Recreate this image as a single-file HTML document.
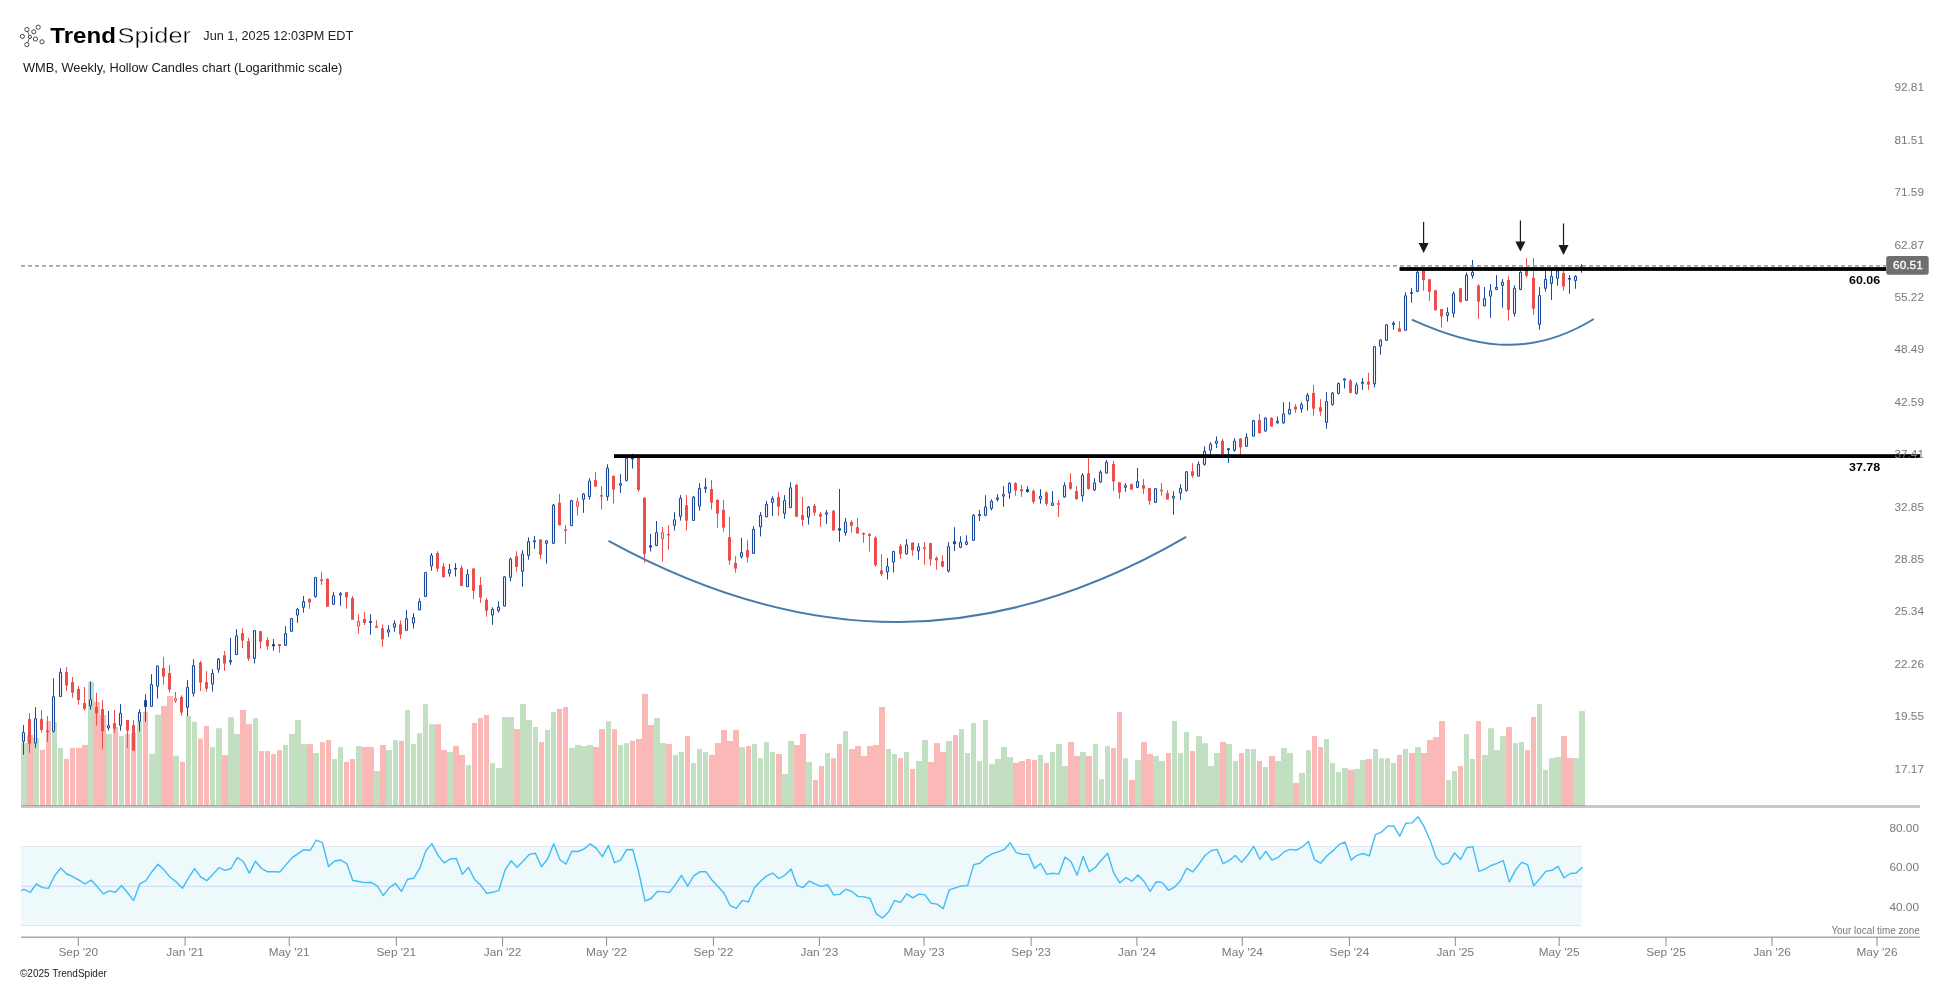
<!DOCTYPE html>
<html><head><meta charset="utf-8"><style>
html,body{margin:0;padding:0;background:#fff;width:1950px;height:983px;overflow:hidden}
svg{position:absolute;left:0;top:0;will-change:transform}
text{font-family:"Liberation Sans",sans-serif}
.ax{font-size:11.8px;fill:#737a7a}
.tz{font-size:10.5px;fill:#737a7a}
.lb{font-size:11.5px;font-weight:bold;fill:#000}
.tag{font-size:11.8px;fill:#fff}
.h1{font-size:22.8px}
</style></head><body>
<svg width="1950" height="983" viewBox="0 0 1950 983">
<text x="50.3" y="42.6" class="h1" font-weight="bold" fill="#000" textLength="65.6" lengthAdjust="spacingAndGlyphs">Trend</text>
<text x="117.6" y="42.6" class="h1" fill="#000" stroke="#fff" stroke-width="0.4" textLength="73.4" lengthAdjust="spacingAndGlyphs">Spider</text>
<text x="203.3" y="40" style="font-size:12.6px" fill="#222" textLength="150" lengthAdjust="spacingAndGlyphs">Jun 1, 2025 12:03PM EDT</text>
<text x="23" y="72.1" style="font-size:12.2px" fill="#1a1a1a" textLength="319.3" lengthAdjust="spacingAndGlyphs">WMB, Weekly, Hollow Candles chart (Logarithmic scale)</text>
<text x="20" y="976.9" style="font-size:10.7px" fill="#222" textLength="86.8" lengthAdjust="spacingAndGlyphs">©2025 TrendSpider</text>
<text x="1919" y="832.2" text-anchor="end" class="ax">80.00</text>
<text x="1919" y="871.2" text-anchor="end" class="ax">60.00</text>
<text x="1919" y="911.2" text-anchor="end" class="ax">40.00</text>
<text x="1831.4" y="933.5" class="tz" textLength="88.4" lengthAdjust="spacingAndGlyphs">Your local time zone</text>
<rect x="21" y="936.6" width="1899" height="1.1" fill="#8a8d8d"/>
<rect x="77.8" y="937" width="1" height="9" fill="#8a8d8d"/>
<text x="78.3" y="956.2" text-anchor="middle" class="ax">Sep '20</text>
<rect x="184.6" y="937" width="1" height="9" fill="#8a8d8d"/>
<text x="185.1" y="956.2" text-anchor="middle" class="ax">Jan '21</text>
<rect x="288.7" y="937" width="1" height="9" fill="#8a8d8d"/>
<text x="289.2" y="956.2" text-anchor="middle" class="ax">May '21</text>
<rect x="395.8" y="937" width="1" height="9" fill="#8a8d8d"/>
<text x="396.3" y="956.2" text-anchor="middle" class="ax">Sep '21</text>
<rect x="502.1" y="937" width="1" height="9" fill="#8a8d8d"/>
<text x="502.6" y="956.2" text-anchor="middle" class="ax">Jan '22</text>
<rect x="606.1" y="937" width="1" height="9" fill="#8a8d8d"/>
<text x="606.6" y="956.2" text-anchor="middle" class="ax">May '22</text>
<rect x="712.9" y="937" width="1" height="9" fill="#8a8d8d"/>
<text x="713.4" y="956.2" text-anchor="middle" class="ax">Sep '22</text>
<rect x="818.9" y="937" width="1" height="9" fill="#8a8d8d"/>
<text x="819.4" y="956.2" text-anchor="middle" class="ax">Jan '23</text>
<rect x="923.5" y="937" width="1" height="9" fill="#8a8d8d"/>
<text x="924" y="956.2" text-anchor="middle" class="ax">May '23</text>
<rect x="1030.6" y="937" width="1" height="9" fill="#8a8d8d"/>
<text x="1031.1" y="956.2" text-anchor="middle" class="ax">Sep '23</text>
<rect x="1136.4" y="937" width="1" height="9" fill="#8a8d8d"/>
<text x="1136.9" y="956.2" text-anchor="middle" class="ax">Jan '24</text>
<rect x="1241.8" y="937" width="1" height="9" fill="#8a8d8d"/>
<text x="1242.3" y="956.2" text-anchor="middle" class="ax">May '24</text>
<rect x="1348.9" y="937" width="1" height="9" fill="#8a8d8d"/>
<text x="1349.4" y="956.2" text-anchor="middle" class="ax">Sep '24</text>
<rect x="1454.8" y="937" width="1" height="9" fill="#8a8d8d"/>
<text x="1455.3" y="956.2" text-anchor="middle" class="ax">Jan '25</text>
<rect x="1558.7" y="937" width="1" height="9" fill="#8a8d8d"/>
<text x="1559.2" y="956.2" text-anchor="middle" class="ax">May '25</text>
<rect x="1665.5" y="937" width="1" height="9" fill="#8a8d8d"/>
<text x="1666" y="956.2" text-anchor="middle" class="ax">Sep '25</text>
<rect x="1771.5" y="937" width="1" height="9" fill="#8a8d8d"/>
<text x="1772" y="956.2" text-anchor="middle" class="ax">Jan '26</text>
<rect x="1876.5" y="937" width="1" height="9" fill="#8a8d8d"/>
<text x="1877" y="956.2" text-anchor="middle" class="ax">May '26</text>
<rect x="21" y="846.5" width="1561" height="79" fill="#edf9fb"/>
<rect x="21" y="846" width="1561" height="1" fill="#e3e7f1"/>
<rect x="21" y="925" width="1561" height="1" fill="#e3e6f0"/>
<rect x="21" y="885.8" width="1561" height="1.1" fill="#d0daf2"/>
<rect x="21" y="805" width="1899" height="3" fill="#c8c9cb"/>
<rect x="21" y="742.9" width="6" height="63.1" fill="#c2e0c1"/>
<rect x="27" y="735.0" width="6" height="71.0" fill="#fab9b7"/>
<rect x="33" y="737.9" width="6" height="68.1" fill="#c2e0c1"/>
<rect x="40" y="749.8" width="5" height="56.2" fill="#fab9b7"/>
<rect x="46" y="721.0" width="5" height="85.0" fill="#fab9b7"/>
<rect x="52" y="722.0" width="5" height="84.0" fill="#c2e0c1"/>
<rect x="58" y="747.8" width="5" height="58.2" fill="#c2e0c1"/>
<rect x="64" y="758.8" width="5" height="47.2" fill="#fab9b7"/>
<rect x="70" y="747.8" width="5" height="58.2" fill="#fab9b7"/>
<rect x="76" y="747.8" width="6" height="58.2" fill="#fab9b7"/>
<rect x="82" y="744.9" width="6" height="61.1" fill="#fab9b7"/>
<rect x="88" y="682.1" width="6" height="123.9" fill="#c2e0c1"/>
<rect x="94" y="701.9" width="6" height="104.1" fill="#fab9b7"/>
<rect x="100" y="715.1" width="6" height="90.9" fill="#fab9b7"/>
<rect x="106" y="733.9" width="6" height="72.1" fill="#c2e0c1"/>
<rect x="113" y="727.0" width="5" height="79.0" fill="#fab9b7"/>
<rect x="119" y="735.9" width="5" height="70.1" fill="#c2e0c1"/>
<rect x="125" y="733.9" width="5" height="72.1" fill="#fab9b7"/>
<rect x="131" y="733.0" width="5" height="73.0" fill="#fab9b7"/>
<rect x="137" y="722.0" width="5" height="84.0" fill="#c2e0c1"/>
<rect x="143" y="711.8" width="5" height="94.2" fill="#fab9b7"/>
<rect x="149" y="753.8" width="6" height="52.2" fill="#c2e0c1"/>
<rect x="155" y="714.7" width="6" height="91.3" fill="#c2e0c1"/>
<rect x="161" y="705.9" width="6" height="100.1" fill="#fab9b7"/>
<rect x="167" y="696.0" width="6" height="110.0" fill="#fab9b7"/>
<rect x="173" y="755.7" width="6" height="50.3" fill="#c2e0c1"/>
<rect x="180" y="761.7" width="5" height="44.3" fill="#fab9b7"/>
<rect x="186" y="715.8" width="5" height="90.2" fill="#c2e0c1"/>
<rect x="192" y="721.7" width="5" height="84.3" fill="#c2e0c1"/>
<rect x="198" y="738.5" width="5" height="67.5" fill="#fab9b7"/>
<rect x="204" y="726.0" width="5" height="80.0" fill="#fab9b7"/>
<rect x="210" y="746.9" width="5" height="59.1" fill="#c2e0c1"/>
<rect x="216" y="728.2" width="6" height="77.8" fill="#c2e0c1"/>
<rect x="222" y="755.1" width="6" height="50.9" fill="#fab9b7"/>
<rect x="228" y="717.2" width="6" height="88.8" fill="#c2e0c1"/>
<rect x="234" y="734.0" width="6" height="72.0" fill="#c2e0c1"/>
<rect x="240" y="710.0" width="6" height="96.0" fill="#fab9b7"/>
<rect x="246" y="724.2" width="6" height="81.8" fill="#fab9b7"/>
<rect x="253" y="718.1" width="5" height="87.9" fill="#c2e0c1"/>
<rect x="259" y="751.1" width="5" height="54.9" fill="#fab9b7"/>
<rect x="265" y="751.1" width="5" height="54.9" fill="#fab9b7"/>
<rect x="271" y="754.0" width="5" height="52.0" fill="#fab9b7"/>
<rect x="277" y="750.1" width="5" height="55.9" fill="#fab9b7"/>
<rect x="283" y="745.0" width="5" height="61.0" fill="#c2e0c1"/>
<rect x="289" y="734.0" width="6" height="72.0" fill="#c2e0c1"/>
<rect x="295" y="720.0" width="6" height="86.0" fill="#c2e0c1"/>
<rect x="301" y="744.1" width="6" height="61.9" fill="#c2e0c1"/>
<rect x="307" y="744.1" width="6" height="61.9" fill="#fab9b7"/>
<rect x="313" y="753.0" width="6" height="53.0" fill="#c2e0c1"/>
<rect x="320" y="742.2" width="5" height="63.8" fill="#fab9b7"/>
<rect x="326" y="740.1" width="5" height="65.9" fill="#fab9b7"/>
<rect x="332" y="759.0" width="5" height="47.0" fill="#c2e0c1"/>
<rect x="338" y="747.0" width="5" height="59.0" fill="#c2e0c1"/>
<rect x="344" y="761.9" width="5" height="44.1" fill="#fab9b7"/>
<rect x="350" y="759.0" width="5" height="47.0" fill="#fab9b7"/>
<rect x="356" y="746.0" width="6" height="60.0" fill="#c2e0c1"/>
<rect x="362" y="747.0" width="6" height="59.0" fill="#fab9b7"/>
<rect x="368" y="747.0" width="6" height="59.0" fill="#fab9b7"/>
<rect x="374" y="771.1" width="6" height="34.9" fill="#c2e0c1"/>
<rect x="380" y="745.0" width="6" height="61.0" fill="#fab9b7"/>
<rect x="386" y="750.1" width="6" height="55.9" fill="#c2e0c1"/>
<rect x="393" y="740.1" width="5" height="65.9" fill="#c2e0c1"/>
<rect x="399" y="740.9" width="5" height="65.1" fill="#fab9b7"/>
<rect x="405" y="710.0" width="5" height="96.0" fill="#c2e0c1"/>
<rect x="411" y="744.1" width="5" height="61.9" fill="#c2e0c1"/>
<rect x="417" y="733.1" width="5" height="72.9" fill="#c2e0c1"/>
<rect x="423" y="704.1" width="5" height="101.9" fill="#c2e0c1"/>
<rect x="429" y="724.2" width="6" height="81.8" fill="#c2e0c1"/>
<rect x="435" y="724.2" width="6" height="81.8" fill="#fab9b7"/>
<rect x="441" y="750.1" width="6" height="55.9" fill="#fab9b7"/>
<rect x="447" y="752.0" width="6" height="54.0" fill="#c2e0c1"/>
<rect x="453" y="746.0" width="6" height="60.0" fill="#fab9b7"/>
<rect x="459" y="754.9" width="6" height="51.1" fill="#fab9b7"/>
<rect x="466" y="765.1" width="5" height="40.9" fill="#c2e0c1"/>
<rect x="472" y="722.9" width="5" height="83.1" fill="#fab9b7"/>
<rect x="478" y="718.1" width="5" height="87.9" fill="#fab9b7"/>
<rect x="484" y="715.1" width="5" height="90.9" fill="#fab9b7"/>
<rect x="490" y="762.9" width="5" height="43.1" fill="#c2e0c1"/>
<rect x="496" y="768.0" width="6" height="38.0" fill="#c2e0c1"/>
<rect x="502" y="717.0" width="6" height="89.0" fill="#c2e0c1"/>
<rect x="508" y="717.0" width="6" height="89.0" fill="#c2e0c1"/>
<rect x="514" y="729.1" width="6" height="76.9" fill="#fab9b7"/>
<rect x="520" y="704.1" width="6" height="101.9" fill="#c2e0c1"/>
<rect x="526" y="720.0" width="6" height="86.0" fill="#c2e0c1"/>
<rect x="533" y="727.0" width="5" height="79.0" fill="#c2e0c1"/>
<rect x="539" y="742.0" width="5" height="64.0" fill="#fab9b7"/>
<rect x="545" y="729.9" width="5" height="76.1" fill="#c2e0c1"/>
<rect x="551" y="712.0" width="5" height="94.0" fill="#c2e0c1"/>
<rect x="557" y="708.9" width="5" height="97.1" fill="#fab9b7"/>
<rect x="563" y="707.0" width="5" height="99.0" fill="#fab9b7"/>
<rect x="569" y="747.9" width="6" height="58.1" fill="#c2e0c1"/>
<rect x="575" y="745.0" width="6" height="61.0" fill="#c2e0c1"/>
<rect x="581" y="746.0" width="6" height="60.0" fill="#c2e0c1"/>
<rect x="587" y="745.0" width="6" height="61.0" fill="#c2e0c1"/>
<rect x="593" y="747.0" width="6" height="59.0" fill="#fab9b7"/>
<rect x="599" y="729.1" width="6" height="76.9" fill="#fab9b7"/>
<rect x="606" y="721.2" width="5" height="84.8" fill="#c2e0c1"/>
<rect x="612" y="729.1" width="5" height="76.9" fill="#fab9b7"/>
<rect x="618" y="745.0" width="5" height="61.0" fill="#c2e0c1"/>
<rect x="624" y="743.1" width="5" height="62.9" fill="#c2e0c1"/>
<rect x="630" y="740.9" width="5" height="65.1" fill="#fab9b7"/>
<rect x="636" y="739.0" width="6" height="67.0" fill="#fab9b7"/>
<rect x="642" y="693.9" width="6" height="112.1" fill="#fab9b7"/>
<rect x="648" y="725.1" width="6" height="80.9" fill="#fab9b7"/>
<rect x="654" y="718.1" width="6" height="87.9" fill="#c2e0c1"/>
<rect x="660" y="743.1" width="6" height="62.9" fill="#c2e0c1"/>
<rect x="666" y="744.1" width="6" height="61.9" fill="#fab9b7"/>
<rect x="673" y="754.9" width="5" height="51.1" fill="#c2e0c1"/>
<rect x="679" y="752.0" width="5" height="54.0" fill="#c2e0c1"/>
<rect x="685" y="736.1" width="5" height="69.9" fill="#fab9b7"/>
<rect x="691" y="762.9" width="5" height="43.1" fill="#c2e0c1"/>
<rect x="697" y="749.0" width="5" height="57.0" fill="#c2e0c1"/>
<rect x="703" y="752.0" width="5" height="54.0" fill="#c2e0c1"/>
<rect x="709" y="754.9" width="6" height="51.1" fill="#fab9b7"/>
<rect x="715" y="743.1" width="6" height="62.9" fill="#fab9b7"/>
<rect x="721" y="729.9" width="6" height="76.1" fill="#fab9b7"/>
<rect x="727" y="740.9" width="6" height="65.1" fill="#fab9b7"/>
<rect x="733" y="729.9" width="6" height="76.1" fill="#fab9b7"/>
<rect x="739" y="747.0" width="6" height="59.0" fill="#c2e0c1"/>
<rect x="746" y="746.0" width="5" height="60.0" fill="#fab9b7"/>
<rect x="752" y="744.1" width="5" height="61.9" fill="#c2e0c1"/>
<rect x="758" y="758.1" width="5" height="47.9" fill="#c2e0c1"/>
<rect x="764" y="742.2" width="5" height="63.8" fill="#c2e0c1"/>
<rect x="770" y="752.0" width="5" height="54.0" fill="#c2e0c1"/>
<rect x="776" y="754.0" width="6" height="52.0" fill="#fab9b7"/>
<rect x="782" y="774.0" width="6" height="32.0" fill="#c2e0c1"/>
<rect x="788" y="740.9" width="6" height="65.1" fill="#c2e0c1"/>
<rect x="794" y="745.0" width="6" height="61.0" fill="#fab9b7"/>
<rect x="800" y="734.0" width="6" height="72.0" fill="#fab9b7"/>
<rect x="806" y="761.9" width="6" height="44.1" fill="#c2e0c1"/>
<rect x="813" y="780.0" width="5" height="26.0" fill="#fab9b7"/>
<rect x="819" y="766.0" width="5" height="40.0" fill="#fab9b7"/>
<rect x="825" y="753.0" width="5" height="53.0" fill="#c2e0c1"/>
<rect x="831" y="758.1" width="5" height="47.9" fill="#fab9b7"/>
<rect x="837" y="744.1" width="5" height="61.9" fill="#fab9b7"/>
<rect x="843" y="731.0" width="5" height="75.0" fill="#c2e0c1"/>
<rect x="849" y="749.0" width="6" height="57.0" fill="#fab9b7"/>
<rect x="855" y="746.0" width="6" height="60.0" fill="#fab9b7"/>
<rect x="861" y="755.9" width="6" height="50.1" fill="#fab9b7"/>
<rect x="867" y="746.0" width="6" height="60.0" fill="#fab9b7"/>
<rect x="873" y="745.0" width="6" height="61.0" fill="#fab9b7"/>
<rect x="879" y="707.0" width="6" height="99.0" fill="#fab9b7"/>
<rect x="886" y="749.0" width="5" height="57.0" fill="#c2e0c1"/>
<rect x="892" y="754.0" width="5" height="52.0" fill="#c2e0c1"/>
<rect x="898" y="758.1" width="5" height="47.9" fill="#fab9b7"/>
<rect x="904" y="752.0" width="5" height="54.0" fill="#c2e0c1"/>
<rect x="910" y="768.9" width="5" height="37.1" fill="#fab9b7"/>
<rect x="916" y="761.0" width="6" height="45.0" fill="#c2e0c1"/>
<rect x="922" y="740.1" width="6" height="65.9" fill="#c2e0c1"/>
<rect x="928" y="761.9" width="6" height="44.1" fill="#fab9b7"/>
<rect x="934" y="743.1" width="6" height="62.9" fill="#fab9b7"/>
<rect x="940" y="752.0" width="6" height="54.0" fill="#fab9b7"/>
<rect x="946" y="740.9" width="6" height="65.1" fill="#c2e0c1"/>
<rect x="953" y="735.0" width="5" height="71.0" fill="#fab9b7"/>
<rect x="959" y="729.1" width="5" height="76.9" fill="#c2e0c1"/>
<rect x="965" y="753.0" width="5" height="53.0" fill="#c2e0c1"/>
<rect x="971" y="722.9" width="5" height="83.1" fill="#c2e0c1"/>
<rect x="977" y="761.0" width="5" height="45.0" fill="#c2e0c1"/>
<rect x="983" y="720.0" width="5" height="86.0" fill="#c2e0c1"/>
<rect x="989" y="764.1" width="6" height="41.9" fill="#c2e0c1"/>
<rect x="995" y="759.0" width="6" height="47.0" fill="#c2e0c1"/>
<rect x="1001" y="747.0" width="6" height="59.0" fill="#c2e0c1"/>
<rect x="1007" y="757.1" width="6" height="48.9" fill="#c2e0c1"/>
<rect x="1013" y="762.9" width="6" height="43.1" fill="#fab9b7"/>
<rect x="1019" y="761.0" width="6" height="45.0" fill="#fab9b7"/>
<rect x="1026" y="759.0" width="5" height="47.0" fill="#fab9b7"/>
<rect x="1032" y="760.0" width="5" height="46.0" fill="#fab9b7"/>
<rect x="1038" y="754.9" width="5" height="51.1" fill="#c2e0c1"/>
<rect x="1044" y="762.9" width="5" height="43.1" fill="#fab9b7"/>
<rect x="1050" y="752.0" width="5" height="54.0" fill="#c2e0c1"/>
<rect x="1056" y="744.1" width="6" height="61.9" fill="#c2e0c1"/>
<rect x="1062" y="766.0" width="6" height="40.0" fill="#c2e0c1"/>
<rect x="1068" y="742.0" width="6" height="64.0" fill="#fab9b7"/>
<rect x="1074" y="755.9" width="6" height="50.1" fill="#fab9b7"/>
<rect x="1080" y="752.0" width="6" height="54.0" fill="#c2e0c1"/>
<rect x="1086" y="755.9" width="6" height="50.1" fill="#fab9b7"/>
<rect x="1093" y="744.1" width="5" height="61.9" fill="#c2e0c1"/>
<rect x="1099" y="779.1" width="5" height="26.9" fill="#c2e0c1"/>
<rect x="1105" y="746.0" width="5" height="60.0" fill="#c2e0c1"/>
<rect x="1111" y="747.9" width="5" height="58.1" fill="#fab9b7"/>
<rect x="1117" y="712.0" width="5" height="94.0" fill="#fab9b7"/>
<rect x="1123" y="758.1" width="5" height="47.9" fill="#c2e0c1"/>
<rect x="1129" y="780.0" width="6" height="26.0" fill="#fab9b7"/>
<rect x="1135" y="760.0" width="6" height="46.0" fill="#c2e0c1"/>
<rect x="1141" y="742.0" width="6" height="64.0" fill="#fab9b7"/>
<rect x="1147" y="754.0" width="6" height="52.0" fill="#fab9b7"/>
<rect x="1153" y="755.9" width="6" height="50.1" fill="#c2e0c1"/>
<rect x="1159" y="761.0" width="6" height="45.0" fill="#c2e0c1"/>
<rect x="1166" y="753.0" width="5" height="53.0" fill="#fab9b7"/>
<rect x="1172" y="721.0" width="5" height="85.0" fill="#c2e0c1"/>
<rect x="1178" y="753.0" width="5" height="53.0" fill="#c2e0c1"/>
<rect x="1184" y="732.0" width="5" height="74.0" fill="#c2e0c1"/>
<rect x="1190" y="751.1" width="5" height="54.9" fill="#fab9b7"/>
<rect x="1196" y="736.1" width="6" height="69.9" fill="#c2e0c1"/>
<rect x="1202" y="743.1" width="6" height="62.9" fill="#c2e0c1"/>
<rect x="1208" y="766.0" width="6" height="40.0" fill="#c2e0c1"/>
<rect x="1214" y="753.0" width="6" height="53.0" fill="#c2e0c1"/>
<rect x="1220" y="742.0" width="6" height="64.0" fill="#fab9b7"/>
<rect x="1226" y="744.1" width="6" height="61.9" fill="#c2e0c1"/>
<rect x="1233" y="761.0" width="5" height="45.0" fill="#c2e0c1"/>
<rect x="1239" y="753.0" width="5" height="53.0" fill="#fab9b7"/>
<rect x="1245" y="749.0" width="5" height="57.0" fill="#c2e0c1"/>
<rect x="1251" y="749.0" width="5" height="57.0" fill="#c2e0c1"/>
<rect x="1257" y="761.0" width="5" height="45.0" fill="#fab9b7"/>
<rect x="1263" y="767.0" width="5" height="39.0" fill="#c2e0c1"/>
<rect x="1269" y="755.9" width="6" height="50.1" fill="#fab9b7"/>
<rect x="1275" y="761.0" width="6" height="45.0" fill="#c2e0c1"/>
<rect x="1281" y="747.9" width="6" height="58.1" fill="#c2e0c1"/>
<rect x="1287" y="753.0" width="6" height="53.0" fill="#c2e0c1"/>
<rect x="1293" y="782.9" width="6" height="23.1" fill="#fab9b7"/>
<rect x="1299" y="773.0" width="6" height="33.0" fill="#c2e0c1"/>
<rect x="1306" y="750.1" width="5" height="55.9" fill="#c2e0c1"/>
<rect x="1312" y="736.1" width="5" height="69.9" fill="#fab9b7"/>
<rect x="1318" y="747.0" width="5" height="59.0" fill="#fab9b7"/>
<rect x="1324" y="739.0" width="5" height="67.0" fill="#c2e0c1"/>
<rect x="1330" y="762.9" width="5" height="43.1" fill="#c2e0c1"/>
<rect x="1336" y="772.1" width="5" height="33.9" fill="#c2e0c1"/>
<rect x="1342" y="768.0" width="6" height="38.0" fill="#c2e0c1"/>
<rect x="1348" y="769.9" width="6" height="36.1" fill="#fab9b7"/>
<rect x="1354" y="768.9" width="6" height="37.1" fill="#c2e0c1"/>
<rect x="1360" y="760.0" width="6" height="46.0" fill="#c2e0c1"/>
<rect x="1366" y="759.0" width="6" height="47.0" fill="#fab9b7"/>
<rect x="1373" y="749.0" width="5" height="57.0" fill="#c2e0c1"/>
<rect x="1379" y="758.1" width="5" height="47.9" fill="#c2e0c1"/>
<rect x="1385" y="758.1" width="5" height="47.9" fill="#c2e0c1"/>
<rect x="1391" y="762.9" width="5" height="43.1" fill="#c2e0c1"/>
<rect x="1397" y="754.9" width="5" height="51.1" fill="#fab9b7"/>
<rect x="1403" y="749.0" width="5" height="57.0" fill="#c2e0c1"/>
<rect x="1409" y="753.0" width="6" height="53.0" fill="#fab9b7"/>
<rect x="1415" y="747.0" width="6" height="59.0" fill="#c2e0c1"/>
<rect x="1421" y="753.0" width="6" height="53.0" fill="#fab9b7"/>
<rect x="1427" y="740.1" width="6" height="65.9" fill="#fab9b7"/>
<rect x="1433" y="737.1" width="6" height="68.9" fill="#fab9b7"/>
<rect x="1439" y="721.0" width="6" height="85.0" fill="#fab9b7"/>
<rect x="1446" y="780.0" width="5" height="26.0" fill="#c2e0c1"/>
<rect x="1452" y="771.1" width="5" height="34.9" fill="#c2e0c1"/>
<rect x="1458" y="766.0" width="5" height="40.0" fill="#fab9b7"/>
<rect x="1464" y="734.0" width="5" height="72.0" fill="#c2e0c1"/>
<rect x="1470" y="759.0" width="5" height="47.0" fill="#c2e0c1"/>
<rect x="1476" y="721.0" width="5" height="85.0" fill="#fab9b7"/>
<rect x="1482" y="754.9" width="6" height="51.1" fill="#c2e0c1"/>
<rect x="1488" y="728.2" width="6" height="77.8" fill="#c2e0c1"/>
<rect x="1494" y="750.1" width="6" height="55.9" fill="#c2e0c1"/>
<rect x="1500" y="736.1" width="6" height="69.9" fill="#c2e0c1"/>
<rect x="1506" y="727.0" width="6" height="79.0" fill="#fab9b7"/>
<rect x="1513" y="743.1" width="5" height="62.9" fill="#c2e0c1"/>
<rect x="1519" y="742.0" width="5" height="64.0" fill="#c2e0c1"/>
<rect x="1525" y="750.1" width="5" height="55.9" fill="#fab9b7"/>
<rect x="1531" y="717.0" width="5" height="89.0" fill="#fab9b7"/>
<rect x="1537" y="704.1" width="5" height="101.9" fill="#c2e0c1"/>
<rect x="1543" y="769.9" width="5" height="36.1" fill="#c2e0c1"/>
<rect x="1549" y="758.1" width="6" height="47.9" fill="#c2e0c1"/>
<rect x="1555" y="757.1" width="6" height="48.9" fill="#c2e0c1"/>
<rect x="1561" y="736.1" width="6" height="69.9" fill="#fab9b7"/>
<rect x="1567" y="758.1" width="6" height="47.9" fill="#fab9b7"/>
<rect x="1573" y="758.1" width="6" height="47.9" fill="#c2e0c1"/>
<rect x="1579" y="711.1" width="6" height="94.9" fill="#c2e0c1"/>
<rect x="21" y="805" width="1564" height="1" fill="rgba(0,0,0,0.2)"/>
<polyline points="21.2,890.6 24.1,889.3 30.2,892.5 36.3,883.8 42.4,887.6 48.5,888.4 54.6,875.8 60.7,868.1 66.7,874.0 72.8,876.6 78.9,880.1 85.0,884.0 91.1,880.1 97.2,886.5 103.3,893.9 109.3,890.9 115.4,892.2 121.5,885.5 127.6,892.7 133.7,900.6 139.8,883.8 145.9,880.7 152.0,871.7 158.0,864.3 164.1,870.1 170.2,877.3 176.3,882.1 182.4,888.3 188.5,877.8 194.6,868.6 200.6,876.8 206.7,880.7 212.8,874.4 218.9,867.7 225.0,870.3 231.1,868.5 237.2,857.7 243.3,861.5 249.3,873.1 255.4,861.3 261.5,868.5 267.6,871.8 273.7,871.6 279.8,872.0 285.9,864.9 291.9,857.9 298.0,853.6 304.1,849.7 310.2,850.5 316.3,840.2 322.4,842.6 328.5,866.5 334.6,861.0 340.6,860.0 346.7,863.6 352.8,880.5 358.9,881.5 365.0,882.6 371.1,882.3 377.2,885.8 383.3,895.6 389.3,887.7 395.4,883.4 401.5,891.5 407.6,879.3 413.7,878.3 419.8,868.2 425.9,850.8 431.9,843.6 438.0,855.4 444.1,862.9 450.2,859.0 456.3,858.5 462.4,874.2 468.5,867.4 474.6,879.5 480.6,885.1 486.7,893.3 492.8,892.3 498.9,890.3 505.0,870.1 511.1,860.8 517.2,867.2 523.2,861.0 529.3,854.4 535.4,853.3 541.5,866.7 547.6,859.0 553.7,843.8 559.8,859.5 565.9,864.1 571.9,851.3 578.0,851.5 584.1,849.0 590.2,843.9 596.3,848.4 602.4,856.6 608.5,845.4 614.5,862.6 620.6,860.2 626.7,849.7 632.8,849.5 638.9,872.8 645.0,901.0 651.1,898.5 657.2,891.5 663.2,891.6 669.3,892.6 675.4,884.6 681.5,875.4 687.6,886.2 693.7,875.9 699.8,871.8 705.9,871.6 711.9,880.0 718.0,886.5 724.1,893.3 730.2,905.6 736.3,908.4 742.4,900.3 748.5,902.1 754.5,887.7 760.6,881.2 766.7,875.9 772.8,873.1 778.9,878.5 785.0,875.1 791.1,868.9 797.2,885.7 803.2,887.6 809.3,881.1 815.4,884.1 821.5,886.6 827.6,884.7 833.7,894.8 839.8,894.4 845.8,889.2 851.9,891.5 858.0,896.4 864.1,896.9 870.2,898.5 876.3,913.9 882.4,917.9 888.5,912.1 894.5,900.5 900.6,902.3 906.7,893.8 912.8,897.9 918.9,894.1 925.0,894.9 931.1,903.3 937.1,904.1 943.2,908.7 949.3,889.8 955.4,887.9 961.5,885.9 967.6,885.6 973.7,864.6 979.8,863.3 985.8,857.7 991.9,853.8 998.0,851.8 1004.1,849.7 1010.2,842.8 1016.3,852.6 1022.4,854.2 1028.5,854.4 1034.5,868.4 1040.6,863.6 1046.7,874.4 1052.8,873.3 1058.9,874.1 1065.0,857.1 1071.1,861.8 1077.1,875.1 1083.2,856.4 1089.3,871.8 1095.4,867.2 1101.5,860.0 1107.6,853.3 1113.7,872.8 1119.8,882.8 1125.8,877.7 1131.9,881.2 1138.0,874.9 1144.1,881.5 1150.2,891.5 1156.3,881.7 1162.4,882.6 1168.4,890.3 1174.5,887.2 1180.6,880.5 1186.7,868.3 1192.8,871.9 1198.9,864.2 1205.0,855.5 1211.1,850.7 1217.1,849.4 1223.2,863.7 1229.3,860.4 1235.4,855.5 1241.5,862.4 1247.6,855.3 1253.7,846.3 1259.8,859.3 1265.8,851.4 1271.9,860.1 1278.0,857.4 1284.1,851.9 1290.2,849.4 1296.3,850.2 1302.4,846.8 1308.4,841.5 1314.5,859.6 1320.6,863.2 1326.7,856.0 1332.8,850.9 1338.9,844.7 1345.0,842.0 1351.1,860.1 1357.1,855.3 1363.2,853.5 1369.3,855.8 1375.4,834.7 1381.5,832.1 1387.6,826.2 1393.7,825.9 1399.7,836.2 1405.8,823.2 1411.9,822.9 1418.0,816.7 1424.1,826.7 1430.2,840.2 1436.3,857.9 1442.4,864.6 1448.4,862.8 1454.5,852.9 1460.6,859.5 1466.7,847.7 1472.8,846.6 1478.9,871.4 1485.0,869.2 1491.0,865.5 1497.1,863.3 1503.2,860.6 1509.3,881.9 1515.4,870.3 1521.5,862.4 1527.6,864.7 1533.7,885.7 1539.7,878.9 1545.8,871.4 1551.9,870.3 1558.0,866.3 1564.1,877.8 1570.2,873.5 1576.3,873.0 1582.4,867.1" fill="none" stroke="#40bdf5" stroke-width="1.4" stroke-linejoin="round"/>
<rect x="23.0" y="725.1" width="1" height="29.8" fill="#1b4a9c"/>
<rect x="22.5" y="732.2" width="2" height="9.4" rx="1" fill="#fff" stroke="#1b4a9c" stroke-width="1.1"/>
<rect x="29.0" y="713.0" width="1" height="39.8" fill="#ee4d4d"/>
<rect x="28.0" y="719.1" width="3" height="24.5" fill="#ee4d4d"/>
<rect x="35.0" y="707.2" width="1" height="40.6" fill="#1b4a9c"/>
<rect x="34.5" y="718.3" width="2" height="24.9" rx="1" fill="#fff" stroke="#1b4a9c" stroke-width="1.1"/>
<rect x="41.0" y="710.1" width="1" height="22.5" fill="#ee4d4d"/>
<rect x="40.0" y="719.1" width="3" height="10.8" fill="#ee4d4d"/>
<rect x="47.0" y="716.1" width="1" height="25.8" fill="#ee4d4d"/>
<rect x="46.0" y="730.7" width="3" height="1.5" fill="#ee4d4d"/>
<rect x="53.0" y="678.4" width="1" height="54.2" fill="#1b4a9c"/>
<rect x="52.5" y="696.2" width="2" height="35.1" rx="1" fill="#fff" stroke="#1b4a9c" stroke-width="1.1"/>
<rect x="60.0" y="668.2" width="1" height="28.4" fill="#1b4a9c"/>
<rect x="59.5" y="672.1" width="2" height="24.5" rx="1" fill="#fff" stroke="#1b4a9c" stroke-width="1.1"/>
<rect x="66.0" y="667.1" width="1" height="23.8" fill="#ee4d4d"/>
<rect x="65.0" y="672.1" width="3" height="13.5" fill="#ee4d4d"/>
<rect x="72.0" y="677.0" width="1" height="20.8" fill="#ee4d4d"/>
<rect x="71.0" y="682.1" width="3" height="10.6" fill="#ee4d4d"/>
<rect x="78.0" y="686.0" width="1" height="18.8" fill="#ee4d4d"/>
<rect x="77.0" y="688.9" width="3" height="11.0" fill="#ee4d4d"/>
<rect x="84.0" y="687.0" width="1" height="23.8" fill="#ee4d4d"/>
<rect x="83.0" y="703.1" width="3" height="5.7" fill="#ee4d4d"/>
<rect x="90.0" y="681.3" width="1" height="28.4" fill="#1b4a9c"/>
<rect x="89.5" y="699.5" width="2" height="6.6" rx="1" fill="#fff" stroke="#1b4a9c" stroke-width="1.1"/>
<rect x="96.0" y="692.9" width="1" height="32.8" fill="#ee4d4d"/>
<rect x="95.0" y="706.8" width="3" height="6.6" fill="#ee4d4d"/>
<rect x="102.0" y="700.2" width="1" height="48.5" fill="#ee4d4d"/>
<rect x="101.0" y="709.0" width="3" height="22.2" fill="#ee4d4d"/>
<rect x="108.0" y="711.0" width="1" height="19.6" fill="#1b4a9c"/>
<rect x="107.5" y="725.3" width="2" height="2.6" rx="1" fill="#fff" stroke="#1b4a9c" stroke-width="1.1"/>
<rect x="114.0" y="710.1" width="1" height="22.5" fill="#ee4d4d"/>
<rect x="113.0" y="723.1" width="3" height="5.6" fill="#ee4d4d"/>
<rect x="120.0" y="704.2" width="1" height="26.5" fill="#1b4a9c"/>
<rect x="119.5" y="713.1" width="2" height="12.4" rx="1" fill="#fff" stroke="#1b4a9c" stroke-width="1.1"/>
<rect x="127.0" y="720.0" width="1" height="27.8" fill="#ee4d4d"/>
<rect x="126.0" y="720.0" width="3" height="10.6" fill="#ee4d4d"/>
<rect x="133.0" y="720.0" width="1" height="30.4" fill="#ee4d4d"/>
<rect x="132.0" y="725.1" width="3" height="25.4" fill="#ee4d4d"/>
<rect x="139.0" y="709.2" width="1" height="22.4" fill="#1b4a9c"/>
<rect x="138.5" y="712.1" width="2" height="9.3" rx="1" fill="#fff" stroke="#1b4a9c" stroke-width="1.1"/>
<rect x="145.0" y="694.2" width="1" height="27.5" fill="#1b4a9c"/>
<rect x="144.0" y="700.2" width="3" height="6.6" fill="#1b4a9c"/>
<rect x="151.0" y="674.1" width="1" height="32.4" fill="#1b4a9c"/>
<rect x="150.5" y="684.3" width="2" height="22.2" rx="1" fill="#fff" stroke="#1b4a9c" stroke-width="1.1"/>
<rect x="157.0" y="665.1" width="1" height="33.5" fill="#1b4a9c"/>
<rect x="156.5" y="665.8" width="2" height="20.5" rx="1" fill="#fff" stroke="#1b4a9c" stroke-width="1.1"/>
<rect x="163.0" y="656.9" width="1" height="27.8" fill="#ee4d4d"/>
<rect x="162.0" y="668.0" width="3" height="8.6" fill="#ee4d4d"/>
<rect x="169.0" y="665.1" width="1" height="27.5" fill="#ee4d4d"/>
<rect x="168.0" y="673.1" width="3" height="16.5" fill="#ee4d4d"/>
<rect x="175.0" y="692.0" width="1" height="10.8" fill="#ee4d4d"/>
<rect x="174.5" y="698.2" width="2" height="2.6" rx="1" fill="#fff" stroke="#ee4d4d" stroke-width="1.1"/>
<rect x="181.0" y="695.3" width="1" height="20.5" fill="#ee4d4d"/>
<rect x="180.0" y="696.9" width="3" height="15.6" fill="#ee4d4d"/>
<rect x="187.0" y="680.1" width="1" height="36.0" fill="#1b4a9c"/>
<rect x="186.5" y="687.0" width="2" height="20.5" rx="1" fill="#fff" stroke="#1b4a9c" stroke-width="1.1"/>
<rect x="193.0" y="659.2" width="1" height="37.4" fill="#1b4a9c"/>
<rect x="192.5" y="665.4" width="2" height="28.2" rx="1" fill="#fff" stroke="#1b4a9c" stroke-width="1.1"/>
<rect x="200.0" y="660.9" width="1" height="30.0" fill="#ee4d4d"/>
<rect x="199.0" y="662.5" width="3" height="20.1" fill="#ee4d4d"/>
<rect x="206.0" y="671.1" width="1" height="20.5" fill="#ee4d4d"/>
<rect x="205.0" y="682.1" width="3" height="6.6" fill="#ee4d4d"/>
<rect x="212.0" y="669.1" width="1" height="22.5" fill="#1b4a9c"/>
<rect x="211.5" y="673.1" width="2" height="11.2" rx="1" fill="#fff" stroke="#1b4a9c" stroke-width="1.1"/>
<rect x="218.0" y="658.0" width="1" height="14.8" fill="#1b4a9c"/>
<rect x="217.5" y="658.9" width="2" height="10.6" rx="1" fill="#fff" stroke="#1b4a9c" stroke-width="1.1"/>
<rect x="224.0" y="651.0" width="1" height="19.8" fill="#ee4d4d"/>
<rect x="223.0" y="655.3" width="3" height="8.2" fill="#ee4d4d"/>
<rect x="230.0" y="637.8" width="1" height="27.1" fill="#1b4a9c"/>
<rect x="229.5" y="660.4" width="2" height="1.5" rx="1" fill="#fff" stroke="#1b4a9c" stroke-width="1.1"/>
<rect x="236.0" y="629.2" width="1" height="25.5" fill="#1b4a9c"/>
<rect x="235.5" y="635.5" width="2" height="19.2" rx="1" fill="#fff" stroke="#1b4a9c" stroke-width="1.1"/>
<rect x="242.0" y="628.2" width="1" height="19.8" fill="#ee4d4d"/>
<rect x="241.0" y="633.1" width="3" height="7.5" fill="#ee4d4d"/>
<rect x="248.0" y="637.8" width="1" height="23.1" fill="#ee4d4d"/>
<rect x="247.0" y="641.1" width="3" height="17.6" fill="#ee4d4d"/>
<rect x="254.0" y="630.2" width="1" height="33.3" fill="#1b4a9c"/>
<rect x="253.5" y="630.2" width="2" height="28.4" rx="1" fill="#fff" stroke="#1b4a9c" stroke-width="1.1"/>
<rect x="260.0" y="631.1" width="1" height="17.6" fill="#ee4d4d"/>
<rect x="259.0" y="631.1" width="3" height="10.6" fill="#ee4d4d"/>
<rect x="267.0" y="637.1" width="1" height="12.6" fill="#ee4d4d"/>
<rect x="266.0" y="640.1" width="3" height="6.2" fill="#ee4d4d"/>
<rect x="273.0" y="639.1" width="1" height="11.6" fill="#1b4a9c"/>
<rect x="272.0" y="644.1" width="3" height="2.2" fill="#1b4a9c"/>
<rect x="279.0" y="644.1" width="1" height="8.6" fill="#ee4d4d"/>
<rect x="278.0" y="644.1" width="3" height="2.2" fill="#ee4d4d"/>
<rect x="285.0" y="626.1" width="1" height="19.3" fill="#1b4a9c"/>
<rect x="284.5" y="633.4" width="2" height="12.0" rx="1" fill="#fff" stroke="#1b4a9c" stroke-width="1.1"/>
<rect x="291.0" y="618.3" width="1" height="13.2" fill="#1b4a9c"/>
<rect x="290.5" y="618.3" width="2" height="13.2" rx="1" fill="#fff" stroke="#1b4a9c" stroke-width="1.1"/>
<rect x="297.0" y="608.0" width="1" height="14.8" fill="#1b4a9c"/>
<rect x="296.5" y="609.0" width="2" height="6.2" rx="1" fill="#fff" stroke="#1b4a9c" stroke-width="1.1"/>
<rect x="303.0" y="596.1" width="1" height="16.5" fill="#1b4a9c"/>
<rect x="302.5" y="601.4" width="2" height="6.0" rx="1" fill="#fff" stroke="#1b4a9c" stroke-width="1.1"/>
<rect x="309.0" y="598.1" width="1" height="10.6" fill="#ee4d4d"/>
<rect x="308.0" y="599.1" width="3" height="3.3" fill="#ee4d4d"/>
<rect x="315.0" y="577.2" width="1" height="20.2" fill="#1b4a9c"/>
<rect x="314.5" y="577.2" width="2" height="19.6" rx="1" fill="#fff" stroke="#1b4a9c" stroke-width="1.1"/>
<rect x="321.0" y="571.9" width="1" height="13.0" fill="#ee4d4d"/>
<rect x="320.0" y="579.3" width="3" height="1.5" fill="#ee4d4d"/>
<rect x="327.0" y="578.2" width="1" height="28.4" fill="#ee4d4d"/>
<rect x="326.0" y="578.9" width="3" height="27.8" fill="#ee4d4d"/>
<rect x="333.0" y="592.1" width="1" height="12.3" fill="#1b4a9c"/>
<rect x="332.5" y="595.2" width="2" height="9.3" rx="1" fill="#fff" stroke="#1b4a9c" stroke-width="1.1"/>
<rect x="340.0" y="592.1" width="1" height="13.6" fill="#1b4a9c"/>
<rect x="339.5" y="593.2" width="2" height="2.0" rx="1" fill="#fff" stroke="#1b4a9c" stroke-width="1.1"/>
<rect x="346.0" y="592.1" width="1" height="16.5" fill="#ee4d4d"/>
<rect x="345.0" y="592.1" width="3" height="5.3" fill="#ee4d4d"/>
<rect x="352.0" y="596.1" width="1" height="23.5" fill="#ee4d4d"/>
<rect x="351.0" y="598.1" width="3" height="21.6" fill="#ee4d4d"/>
<rect x="358.0" y="614.3" width="1" height="19.4" fill="#ee4d4d"/>
<rect x="357.5" y="621.2" width="2" height="5.0" rx="1" fill="#fff" stroke="#ee4d4d" stroke-width="1.1"/>
<rect x="364.0" y="612.0" width="1" height="13.0" fill="#ee4d4d"/>
<rect x="363.0" y="619.0" width="3" height="4.0" fill="#ee4d4d"/>
<rect x="370.0" y="614.3" width="1" height="20.4" fill="#1b4a9c"/>
<rect x="369.0" y="621.2" width="3" height="1.6" fill="#1b4a9c"/>
<rect x="376.0" y="620.3" width="1" height="6.3" fill="#ee4d4d"/>
<rect x="375.5" y="626.1" width="2" height="1.5" rx="1" fill="#fff" stroke="#ee4d4d" stroke-width="1.1"/>
<rect x="382.0" y="624.3" width="1" height="22.5" fill="#ee4d4d"/>
<rect x="381.0" y="628.2" width="3" height="11.2" fill="#ee4d4d"/>
<rect x="388.0" y="625.2" width="1" height="11.6" fill="#1b4a9c"/>
<rect x="387.5" y="629.6" width="2" height="2.6" rx="1" fill="#fff" stroke="#1b4a9c" stroke-width="1.1"/>
<rect x="394.0" y="620.3" width="1" height="11.5" fill="#1b4a9c"/>
<rect x="393.5" y="623.2" width="2" height="4.0" rx="1" fill="#fff" stroke="#1b4a9c" stroke-width="1.1"/>
<rect x="400.0" y="620.3" width="1" height="18.5" fill="#ee4d4d"/>
<rect x="399.0" y="624.3" width="3" height="10.2" fill="#ee4d4d"/>
<rect x="406.0" y="610.0" width="1" height="20.5" fill="#1b4a9c"/>
<rect x="405.5" y="618.3" width="2" height="12.2" rx="1" fill="#fff" stroke="#1b4a9c" stroke-width="1.1"/>
<rect x="413.0" y="613.1" width="1" height="15.5" fill="#1b4a9c"/>
<rect x="412.5" y="617.4" width="2" height="5.9" rx="1" fill="#fff" stroke="#1b4a9c" stroke-width="1.1"/>
<rect x="419.0" y="598.4" width="1" height="11.6" fill="#1b4a9c"/>
<rect x="418.5" y="601.4" width="2" height="8.5" rx="1" fill="#fff" stroke="#1b4a9c" stroke-width="1.1"/>
<rect x="425.0" y="572.2" width="1" height="24.4" fill="#1b4a9c"/>
<rect x="424.5" y="572.2" width="2" height="24.4" rx="1" fill="#fff" stroke="#1b4a9c" stroke-width="1.1"/>
<rect x="431.0" y="553.0" width="1" height="17.8" fill="#1b4a9c"/>
<rect x="430.5" y="555.3" width="2" height="11.0" rx="1" fill="#fff" stroke="#1b4a9c" stroke-width="1.1"/>
<rect x="437.0" y="551.2" width="1" height="20.5" fill="#ee4d4d"/>
<rect x="436.0" y="553.0" width="3" height="15.7" fill="#ee4d4d"/>
<rect x="443.0" y="563.1" width="1" height="14.8" fill="#ee4d4d"/>
<rect x="442.0" y="566.3" width="3" height="10.7" fill="#ee4d4d"/>
<rect x="449.0" y="564.0" width="1" height="12.6" fill="#1b4a9c"/>
<rect x="448.5" y="569.3" width="2" height="4.1" rx="1" fill="#fff" stroke="#1b4a9c" stroke-width="1.1"/>
<rect x="455.0" y="563.1" width="1" height="13.5" fill="#1b4a9c"/>
<rect x="454.0" y="567.9" width="3" height="1.5" fill="#1b4a9c"/>
<rect x="461.0" y="565.4" width="1" height="20.5" fill="#ee4d4d"/>
<rect x="460.0" y="567.7" width="3" height="18.2" fill="#ee4d4d"/>
<rect x="467.0" y="569.3" width="1" height="17.5" fill="#1b4a9c"/>
<rect x="466.5" y="574.3" width="2" height="12.5" rx="1" fill="#fff" stroke="#1b4a9c" stroke-width="1.1"/>
<rect x="473.0" y="568.1" width="1" height="30.8" fill="#ee4d4d"/>
<rect x="472.0" y="568.6" width="3" height="22.1" fill="#ee4d4d"/>
<rect x="480.0" y="577.0" width="1" height="25.8" fill="#ee4d4d"/>
<rect x="479.0" y="585.0" width="3" height="12.5" fill="#ee4d4d"/>
<rect x="486.0" y="598.0" width="1" height="18.7" fill="#ee4d4d"/>
<rect x="485.0" y="599.8" width="3" height="11.0" fill="#ee4d4d"/>
<rect x="492.0" y="607.3" width="1" height="17.5" fill="#1b4a9c"/>
<rect x="491.5" y="609.1" width="2" height="6.2" rx="1" fill="#fff" stroke="#1b4a9c" stroke-width="1.1"/>
<rect x="498.0" y="601.4" width="1" height="11.2" fill="#1b4a9c"/>
<rect x="497.5" y="606.9" width="2" height="3.9" rx="1" fill="#fff" stroke="#1b4a9c" stroke-width="1.1"/>
<rect x="504.0" y="576.6" width="1" height="29.7" fill="#1b4a9c"/>
<rect x="503.5" y="576.6" width="2" height="29.7" rx="1" fill="#fff" stroke="#1b4a9c" stroke-width="1.1"/>
<rect x="510.0" y="557.4" width="1" height="24.0" fill="#1b4a9c"/>
<rect x="509.5" y="558.8" width="2" height="18.7" rx="1" fill="#fff" stroke="#1b4a9c" stroke-width="1.1"/>
<rect x="516.0" y="551.2" width="1" height="20.5" fill="#ee4d4d"/>
<rect x="515.0" y="556.2" width="3" height="10.7" fill="#ee4d4d"/>
<rect x="522.0" y="550.3" width="1" height="36.5" fill="#1b4a9c"/>
<rect x="521.5" y="553.8" width="2" height="17.8" rx="1" fill="#fff" stroke="#1b4a9c" stroke-width="1.1"/>
<rect x="528.0" y="537.3" width="1" height="22.4" fill="#1b4a9c"/>
<rect x="527.5" y="541.4" width="2" height="14.2" rx="1" fill="#fff" stroke="#1b4a9c" stroke-width="1.1"/>
<rect x="534.0" y="536.0" width="1" height="12.8" fill="#1b4a9c"/>
<rect x="533.5" y="540.5" width="2" height="1.5" rx="1" fill="#fff" stroke="#1b4a9c" stroke-width="1.1"/>
<rect x="540.0" y="539.1" width="1" height="19.8" fill="#ee4d4d"/>
<rect x="539.0" y="539.6" width="3" height="15.1" fill="#ee4d4d"/>
<rect x="546.0" y="540.1" width="1" height="23.5" fill="#1b4a9c"/>
<rect x="545.5" y="540.5" width="2" height="3.0" rx="1" fill="#fff" stroke="#1b4a9c" stroke-width="1.1"/>
<rect x="553.0" y="504.0" width="1" height="39.5" fill="#1b4a9c"/>
<rect x="552.5" y="504.9" width="2" height="38.6" rx="1" fill="#fff" stroke="#1b4a9c" stroke-width="1.1"/>
<rect x="559.0" y="493.8" width="1" height="31.5" fill="#ee4d4d"/>
<rect x="558.0" y="502.7" width="3" height="22.6" fill="#ee4d4d"/>
<rect x="565.0" y="525.0" width="1" height="19.1" fill="#ee4d4d"/>
<rect x="564.0" y="529.3" width="3" height="1.5" fill="#ee4d4d"/>
<rect x="571.0" y="500.1" width="1" height="25.6" fill="#1b4a9c"/>
<rect x="570.5" y="500.4" width="2" height="25.3" rx="1" fill="#fff" stroke="#1b4a9c" stroke-width="1.1"/>
<rect x="577.0" y="497.7" width="1" height="17.8" fill="#ee4d4d"/>
<rect x="576.5" y="501.3" width="2" height="5.3" rx="1" fill="#fff" stroke="#ee4d4d" stroke-width="1.1"/>
<rect x="583.0" y="492.9" width="1" height="19.9" fill="#1b4a9c"/>
<rect x="582.5" y="493.8" width="2" height="5.7" rx="1" fill="#fff" stroke="#1b4a9c" stroke-width="1.1"/>
<rect x="589.0" y="478.2" width="1" height="21.4" fill="#1b4a9c"/>
<rect x="588.5" y="480.8" width="2" height="16.0" rx="1" fill="#fff" stroke="#1b4a9c" stroke-width="1.1"/>
<rect x="595.0" y="472.0" width="1" height="14.7" fill="#ee4d4d"/>
<rect x="594.0" y="480.1" width="3" height="6.6" fill="#ee4d4d"/>
<rect x="601.0" y="486.0" width="1" height="23.6" fill="#ee4d4d"/>
<rect x="600.0" y="495.1" width="3" height="1.5" fill="#ee4d4d"/>
<rect x="607.0" y="464.2" width="1" height="36.6" fill="#1b4a9c"/>
<rect x="606.5" y="467.9" width="2" height="28.8" rx="1" fill="#fff" stroke="#1b4a9c" stroke-width="1.1"/>
<rect x="613.0" y="475.2" width="1" height="28.5" fill="#ee4d4d"/>
<rect x="612.0" y="476.0" width="3" height="13.6" fill="#ee4d4d"/>
<rect x="620.0" y="474.1" width="1" height="18.9" fill="#1b4a9c"/>
<rect x="619.5" y="483.3" width="2" height="2.2" rx="1" fill="#fff" stroke="#1b4a9c" stroke-width="1.1"/>
<rect x="626.0" y="457.5" width="1" height="24.0" fill="#1b4a9c"/>
<rect x="625.5" y="458.3" width="2" height="22.1" rx="1" fill="#fff" stroke="#1b4a9c" stroke-width="1.1"/>
<rect x="632.0" y="453.8" width="1" height="14.7" fill="#1b4a9c"/>
<rect x="631.0" y="457.5" width="3" height="1.9" fill="#1b4a9c"/>
<rect x="638.0" y="456.8" width="1" height="35.1" fill="#ee4d4d"/>
<rect x="637.0" y="457.5" width="3" height="32.4" fill="#ee4d4d"/>
<rect x="644.0" y="497.1" width="1" height="65.6" fill="#ee4d4d"/>
<rect x="643.0" y="497.8" width="3" height="56.0" fill="#ee4d4d"/>
<rect x="650.0" y="533.9" width="1" height="17.6" fill="#1b4a9c"/>
<rect x="649.0" y="545.3" width="3" height="2.2" fill="#1b4a9c"/>
<rect x="656.0" y="521.0" width="1" height="24.6" fill="#1b4a9c"/>
<rect x="655.5" y="532.3" width="2" height="13.3" rx="1" fill="#fff" stroke="#1b4a9c" stroke-width="1.1"/>
<rect x="662.0" y="526.9" width="1" height="34.7" fill="#ee4d4d"/>
<rect x="661.5" y="532.3" width="2" height="6.8" rx="1" fill="#fff" stroke="#ee4d4d" stroke-width="1.1"/>
<rect x="668.0" y="525.1" width="1" height="24.6" fill="#ee4d4d"/>
<rect x="667.0" y="533.9" width="3" height="1.5" fill="#ee4d4d"/>
<rect x="674.0" y="512.1" width="1" height="18.4" fill="#1b4a9c"/>
<rect x="673.5" y="519.5" width="2" height="5.9" rx="1" fill="#fff" stroke="#1b4a9c" stroke-width="1.1"/>
<rect x="680.0" y="495.1" width="1" height="25.5" fill="#1b4a9c"/>
<rect x="679.5" y="498.1" width="2" height="18.4" rx="1" fill="#fff" stroke="#1b4a9c" stroke-width="1.1"/>
<rect x="686.0" y="495.1" width="1" height="35.4" fill="#ee4d4d"/>
<rect x="685.0" y="505.2" width="3" height="15.5" fill="#ee4d4d"/>
<rect x="693.0" y="496.3" width="1" height="24.2" fill="#1b4a9c"/>
<rect x="692.5" y="496.9" width="2" height="23.6" rx="1" fill="#fff" stroke="#1b4a9c" stroke-width="1.1"/>
<rect x="699.0" y="483.1" width="1" height="27.6" fill="#1b4a9c"/>
<rect x="698.5" y="488.1" width="2" height="18.1" rx="1" fill="#fff" stroke="#1b4a9c" stroke-width="1.1"/>
<rect x="705.0" y="478.2" width="1" height="14.7" fill="#1b4a9c"/>
<rect x="704.5" y="487.0" width="2" height="1.8" rx="1" fill="#fff" stroke="#1b4a9c" stroke-width="1.1"/>
<rect x="711.0" y="480.0" width="1" height="29.6" fill="#ee4d4d"/>
<rect x="710.0" y="489.0" width="3" height="13.6" fill="#ee4d4d"/>
<rect x="717.0" y="499.3" width="1" height="28.6" fill="#ee4d4d"/>
<rect x="716.0" y="499.9" width="3" height="13.7" fill="#ee4d4d"/>
<rect x="723.0" y="500.0" width="1" height="31.7" fill="#ee4d4d"/>
<rect x="722.0" y="509.9" width="3" height="17.7" fill="#ee4d4d"/>
<rect x="729.0" y="517.0" width="1" height="47.8" fill="#ee4d4d"/>
<rect x="728.0" y="537.2" width="3" height="23.3" fill="#ee4d4d"/>
<rect x="735.0" y="555.9" width="1" height="16.7" fill="#ee4d4d"/>
<rect x="734.0" y="563.0" width="3" height="5.6" fill="#ee4d4d"/>
<rect x="741.0" y="537.9" width="1" height="20.6" fill="#1b4a9c"/>
<rect x="740.5" y="552.4" width="2" height="4.4" rx="1" fill="#fff" stroke="#1b4a9c" stroke-width="1.1"/>
<rect x="747.0" y="540.1" width="1" height="22.6" fill="#ee4d4d"/>
<rect x="746.0" y="550.0" width="3" height="7.4" fill="#ee4d4d"/>
<rect x="753.0" y="526.1" width="1" height="27.3" fill="#1b4a9c"/>
<rect x="752.5" y="529.1" width="2" height="24.3" rx="1" fill="#fff" stroke="#1b4a9c" stroke-width="1.1"/>
<rect x="760.0" y="512.1" width="1" height="24.3" fill="#1b4a9c"/>
<rect x="759.5" y="515.1" width="2" height="11.8" rx="1" fill="#fff" stroke="#1b4a9c" stroke-width="1.1"/>
<rect x="766.0" y="501.0" width="1" height="15.9" fill="#1b4a9c"/>
<rect x="765.5" y="504.0" width="2" height="13.0" rx="1" fill="#fff" stroke="#1b4a9c" stroke-width="1.1"/>
<rect x="772.0" y="496.3" width="1" height="19.5" fill="#1b4a9c"/>
<rect x="771.5" y="498.4" width="2" height="4.1" rx="1" fill="#fff" stroke="#1b4a9c" stroke-width="1.1"/>
<rect x="778.0" y="491.9" width="1" height="23.9" fill="#ee4d4d"/>
<rect x="777.0" y="496.9" width="3" height="9.7" fill="#ee4d4d"/>
<rect x="784.0" y="495.1" width="1" height="23.6" fill="#1b4a9c"/>
<rect x="783.5" y="500.3" width="2" height="13.3" rx="1" fill="#fff" stroke="#1b4a9c" stroke-width="1.1"/>
<rect x="790.0" y="482.2" width="1" height="25.5" fill="#1b4a9c"/>
<rect x="789.5" y="487.5" width="2" height="20.2" rx="1" fill="#fff" stroke="#1b4a9c" stroke-width="1.1"/>
<rect x="796.0" y="484.1" width="1" height="32.7" fill="#ee4d4d"/>
<rect x="795.0" y="484.8" width="3" height="32.0" fill="#ee4d4d"/>
<rect x="802.0" y="497.1" width="1" height="28.8" fill="#ee4d4d"/>
<rect x="801.0" y="515.1" width="3" height="4.7" fill="#ee4d4d"/>
<rect x="808.0" y="505.9" width="1" height="18.7" fill="#1b4a9c"/>
<rect x="807.5" y="506.9" width="2" height="10.3" rx="1" fill="#fff" stroke="#1b4a9c" stroke-width="1.1"/>
<rect x="814.0" y="504.0" width="1" height="11.8" fill="#ee4d4d"/>
<rect x="813.0" y="505.8" width="3" height="6.8" fill="#ee4d4d"/>
<rect x="820.0" y="512.1" width="1" height="14.7" fill="#ee4d4d"/>
<rect x="819.0" y="513.9" width="3" height="2.9" fill="#ee4d4d"/>
<rect x="826.0" y="509.9" width="1" height="14.0" fill="#1b4a9c"/>
<rect x="825.5" y="512.8" width="2" height="1.5" rx="1" fill="#fff" stroke="#1b4a9c" stroke-width="1.1"/>
<rect x="833.0" y="509.9" width="1" height="20.6" fill="#ee4d4d"/>
<rect x="832.0" y="510.9" width="3" height="19.6" fill="#ee4d4d"/>
<rect x="839.0" y="489.0" width="1" height="52.9" fill="#1b4a9c"/>
<rect x="838.0" y="528.3" width="3" height="2.2" fill="#1b4a9c"/>
<rect x="845.0" y="518.0" width="1" height="17.7" fill="#1b4a9c"/>
<rect x="844.5" y="521.7" width="2" height="11.1" rx="1" fill="#fff" stroke="#1b4a9c" stroke-width="1.1"/>
<rect x="851.0" y="520.2" width="1" height="12.5" fill="#ee4d4d"/>
<rect x="850.0" y="522.0" width="3" height="3.7" fill="#ee4d4d"/>
<rect x="857.0" y="518.0" width="1" height="15.5" fill="#ee4d4d"/>
<rect x="856.0" y="527.2" width="3" height="6.3" fill="#ee4d4d"/>
<rect x="863.0" y="532.3" width="1" height="10.5" fill="#ee4d4d"/>
<rect x="862.0" y="533.1" width="3" height="1.5" fill="#ee4d4d"/>
<rect x="869.0" y="533.2" width="1" height="18.4" fill="#ee4d4d"/>
<rect x="868.0" y="533.9" width="3" height="2.2" fill="#ee4d4d"/>
<rect x="875.0" y="536.2" width="1" height="30.5" fill="#ee4d4d"/>
<rect x="874.0" y="537.6" width="3" height="27.6" fill="#ee4d4d"/>
<rect x="881.0" y="554.1" width="1" height="21.7" fill="#ee4d4d"/>
<rect x="880.0" y="570.4" width="3" height="3.7" fill="#ee4d4d"/>
<rect x="887.0" y="558.1" width="1" height="21.4" fill="#1b4a9c"/>
<rect x="886.5" y="566.2" width="2" height="5.9" rx="1" fill="#fff" stroke="#1b4a9c" stroke-width="1.1"/>
<rect x="893.0" y="550.9" width="1" height="21.7" fill="#1b4a9c"/>
<rect x="892.5" y="551.2" width="2" height="11.1" rx="1" fill="#fff" stroke="#1b4a9c" stroke-width="1.1"/>
<rect x="900.0" y="544.1" width="1" height="14.7" fill="#ee4d4d"/>
<rect x="899.0" y="546.0" width="3" height="8.1" fill="#ee4d4d"/>
<rect x="906.0" y="539.1" width="1" height="15.3" fill="#1b4a9c"/>
<rect x="905.5" y="544.6" width="2" height="9.3" rx="1" fill="#fff" stroke="#1b4a9c" stroke-width="1.1"/>
<rect x="912.0" y="542.3" width="1" height="13.3" fill="#ee4d4d"/>
<rect x="911.0" y="542.6" width="3" height="7.8" fill="#ee4d4d"/>
<rect x="918.0" y="543.1" width="1" height="16.7" fill="#1b4a9c"/>
<rect x="917.5" y="546.5" width="2" height="4.4" rx="1" fill="#fff" stroke="#1b4a9c" stroke-width="1.1"/>
<rect x="924.0" y="542.1" width="1" height="22.7" fill="#ee4d4d"/>
<rect x="923.5" y="547.5" width="2" height="1.5" rx="1" fill="#fff" stroke="#ee4d4d" stroke-width="1.1"/>
<rect x="930.0" y="543.1" width="1" height="22.6" fill="#ee4d4d"/>
<rect x="929.0" y="543.1" width="3" height="16.2" fill="#ee4d4d"/>
<rect x="936.0" y="556.4" width="1" height="13.3" fill="#ee4d4d"/>
<rect x="935.0" y="557.8" width="3" height="2.5" fill="#ee4d4d"/>
<rect x="942.0" y="555.3" width="1" height="12.1" fill="#ee4d4d"/>
<rect x="941.0" y="561.1" width="3" height="5.6" fill="#ee4d4d"/>
<rect x="948.0" y="542.1" width="1" height="30.5" fill="#1b4a9c"/>
<rect x="947.5" y="546.3" width="2" height="24.8" rx="1" fill="#fff" stroke="#1b4a9c" stroke-width="1.1"/>
<rect x="954.0" y="527.2" width="1" height="23.7" fill="#1b4a9c"/>
<rect x="953.0" y="541.2" width="3" height="2.9" fill="#1b4a9c"/>
<rect x="960.0" y="536.2" width="1" height="11.4" fill="#1b4a9c"/>
<rect x="959.5" y="542.1" width="2" height="5.5" rx="1" fill="#fff" stroke="#1b4a9c" stroke-width="1.1"/>
<rect x="966.0" y="535.3" width="1" height="10.0" fill="#1b4a9c"/>
<rect x="965.5" y="541.6" width="2" height="2.9" rx="1" fill="#fff" stroke="#1b4a9c" stroke-width="1.1"/>
<rect x="973.0" y="514.3" width="1" height="26.1" fill="#1b4a9c"/>
<rect x="972.5" y="515.1" width="2" height="25.4" rx="1" fill="#fff" stroke="#1b4a9c" stroke-width="1.1"/>
<rect x="979.0" y="509.9" width="1" height="11.1" fill="#1b4a9c"/>
<rect x="978.5" y="514.3" width="2" height="1.5" rx="1" fill="#fff" stroke="#1b4a9c" stroke-width="1.1"/>
<rect x="985.0" y="495.2" width="1" height="20.4" fill="#1b4a9c"/>
<rect x="984.5" y="506.6" width="2" height="9.0" rx="1" fill="#fff" stroke="#1b4a9c" stroke-width="1.1"/>
<rect x="991.0" y="499.3" width="1" height="11.2" fill="#1b4a9c"/>
<rect x="990.5" y="501.0" width="2" height="7.6" rx="1" fill="#fff" stroke="#1b4a9c" stroke-width="1.1"/>
<rect x="997.0" y="494.3" width="1" height="7.3" fill="#1b4a9c"/>
<rect x="996.5" y="497.9" width="2" height="1.7" rx="1" fill="#fff" stroke="#1b4a9c" stroke-width="1.1"/>
<rect x="1003.0" y="486.1" width="1" height="20.7" fill="#1b4a9c"/>
<rect x="1002.5" y="494.3" width="2" height="2.0" rx="1" fill="#fff" stroke="#1b4a9c" stroke-width="1.1"/>
<rect x="1009.0" y="482.3" width="1" height="16.5" fill="#1b4a9c"/>
<rect x="1008.5" y="483.1" width="2" height="9.8" rx="1" fill="#fff" stroke="#1b4a9c" stroke-width="1.1"/>
<rect x="1015.0" y="482.3" width="1" height="13.3" fill="#ee4d4d"/>
<rect x="1014.0" y="483.1" width="3" height="7.3" fill="#ee4d4d"/>
<rect x="1021.0" y="485.1" width="1" height="11.8" fill="#ee4d4d"/>
<rect x="1020.0" y="489.2" width="3" height="2.2" fill="#ee4d4d"/>
<rect x="1027.0" y="486.1" width="1" height="6.5" fill="#1b4a9c"/>
<rect x="1026.0" y="489.2" width="3" height="2.8" fill="#1b4a9c"/>
<rect x="1033.0" y="489.2" width="1" height="14.5" fill="#ee4d4d"/>
<rect x="1032.0" y="490.9" width="3" height="11.0" fill="#ee4d4d"/>
<rect x="1040.0" y="489.2" width="1" height="14.5" fill="#1b4a9c"/>
<rect x="1039.5" y="496.0" width="2" height="3.1" rx="1" fill="#fff" stroke="#1b4a9c" stroke-width="1.1"/>
<rect x="1046.0" y="491.1" width="1" height="14.7" fill="#ee4d4d"/>
<rect x="1045.0" y="492.6" width="3" height="11.2" fill="#ee4d4d"/>
<rect x="1052.0" y="491.1" width="1" height="14.7" fill="#1b4a9c"/>
<rect x="1051.5" y="502.7" width="2" height="2.8" rx="1" fill="#fff" stroke="#1b4a9c" stroke-width="1.1"/>
<rect x="1058.0" y="500.1" width="1" height="16.9" fill="#ee4d4d"/>
<rect x="1057.5" y="503.2" width="2" height="1.5" rx="1" fill="#fff" stroke="#ee4d4d" stroke-width="1.1"/>
<rect x="1064.0" y="482.3" width="1" height="15.3" fill="#1b4a9c"/>
<rect x="1063.5" y="485.3" width="2" height="11.8" rx="1" fill="#fff" stroke="#1b4a9c" stroke-width="1.1"/>
<rect x="1070.0" y="473.2" width="1" height="16.6" fill="#ee4d4d"/>
<rect x="1069.0" y="482.3" width="3" height="6.4" fill="#ee4d4d"/>
<rect x="1076.0" y="486.1" width="1" height="13.8" fill="#ee4d4d"/>
<rect x="1075.0" y="491.1" width="3" height="7.9" fill="#ee4d4d"/>
<rect x="1082.0" y="473.2" width="1" height="28.3" fill="#1b4a9c"/>
<rect x="1081.5" y="475.0" width="2" height="20.9" rx="1" fill="#fff" stroke="#1b4a9c" stroke-width="1.1"/>
<rect x="1088.0" y="457.9" width="1" height="31.9" fill="#ee4d4d"/>
<rect x="1087.0" y="473.2" width="3" height="15.7" fill="#ee4d4d"/>
<rect x="1094.0" y="478.1" width="1" height="12.9" fill="#1b4a9c"/>
<rect x="1093.5" y="482.5" width="2" height="7.5" rx="1" fill="#fff" stroke="#1b4a9c" stroke-width="1.1"/>
<rect x="1100.0" y="470.2" width="1" height="12.3" fill="#1b4a9c"/>
<rect x="1099.5" y="471.9" width="2" height="10.3" rx="1" fill="#fff" stroke="#1b4a9c" stroke-width="1.1"/>
<rect x="1106.0" y="460.1" width="1" height="13.2" fill="#1b4a9c"/>
<rect x="1105.5" y="462.0" width="2" height="11.3" rx="1" fill="#fff" stroke="#1b4a9c" stroke-width="1.1"/>
<rect x="1113.0" y="461.0" width="1" height="29.9" fill="#ee4d4d"/>
<rect x="1112.0" y="464.1" width="3" height="17.3" fill="#ee4d4d"/>
<rect x="1119.0" y="482.3" width="1" height="16.5" fill="#ee4d4d"/>
<rect x="1118.0" y="482.3" width="3" height="10.1" fill="#ee4d4d"/>
<rect x="1125.0" y="483.1" width="1" height="8.6" fill="#1b4a9c"/>
<rect x="1124.5" y="485.3" width="2" height="2.2" rx="1" fill="#fff" stroke="#1b4a9c" stroke-width="1.1"/>
<rect x="1131.0" y="483.4" width="1" height="6.2" fill="#ee4d4d"/>
<rect x="1130.0" y="484.2" width="3" height="5.4" fill="#ee4d4d"/>
<rect x="1137.0" y="468.0" width="1" height="19.6" fill="#1b4a9c"/>
<rect x="1136.5" y="481.4" width="2" height="6.2" rx="1" fill="#fff" stroke="#1b4a9c" stroke-width="1.1"/>
<rect x="1143.0" y="478.9" width="1" height="15.0" fill="#ee4d4d"/>
<rect x="1142.0" y="485.1" width="3" height="3.6" fill="#ee4d4d"/>
<rect x="1149.0" y="488.1" width="1" height="16.6" fill="#ee4d4d"/>
<rect x="1148.0" y="488.1" width="3" height="12.9" fill="#ee4d4d"/>
<rect x="1155.0" y="488.1" width="1" height="14.8" fill="#1b4a9c"/>
<rect x="1154.5" y="488.3" width="2" height="14.1" rx="1" fill="#fff" stroke="#1b4a9c" stroke-width="1.1"/>
<rect x="1161.0" y="483.1" width="1" height="12.6" fill="#ee4d4d"/>
<rect x="1160.5" y="489.8" width="2" height="1.5" rx="1" fill="#fff" stroke="#ee4d4d" stroke-width="1.1"/>
<rect x="1167.0" y="490.1" width="1" height="9.7" fill="#ee4d4d"/>
<rect x="1166.0" y="493.2" width="3" height="6.2" fill="#ee4d4d"/>
<rect x="1173.0" y="491.3" width="1" height="23.5" fill="#1b4a9c"/>
<rect x="1172.5" y="496.0" width="2" height="2.2" rx="1" fill="#fff" stroke="#1b4a9c" stroke-width="1.1"/>
<rect x="1180.0" y="484.3" width="1" height="15.5" fill="#1b4a9c"/>
<rect x="1179.5" y="488.0" width="2" height="5.2" rx="1" fill="#fff" stroke="#1b4a9c" stroke-width="1.1"/>
<rect x="1186.0" y="471.0" width="1" height="20.6" fill="#1b4a9c"/>
<rect x="1185.5" y="471.5" width="2" height="19.2" rx="1" fill="#fff" stroke="#1b4a9c" stroke-width="1.1"/>
<rect x="1192.0" y="463.2" width="1" height="14.5" fill="#ee4d4d"/>
<rect x="1191.0" y="471.5" width="3" height="4.4" fill="#ee4d4d"/>
<rect x="1198.0" y="461.4" width="1" height="14.7" fill="#1b4a9c"/>
<rect x="1197.5" y="464.1" width="2" height="12.1" rx="1" fill="#fff" stroke="#1b4a9c" stroke-width="1.1"/>
<rect x="1204.0" y="446.4" width="1" height="19.2" fill="#1b4a9c"/>
<rect x="1203.5" y="451.1" width="2" height="13.3" rx="1" fill="#fff" stroke="#1b4a9c" stroke-width="1.1"/>
<rect x="1210.0" y="442.3" width="1" height="11.8" fill="#1b4a9c"/>
<rect x="1209.5" y="443.7" width="2" height="6.6" rx="1" fill="#fff" stroke="#1b4a9c" stroke-width="1.1"/>
<rect x="1216.0" y="436.4" width="1" height="11.5" fill="#1b4a9c"/>
<rect x="1215.5" y="440.8" width="2" height="2.7" rx="1" fill="#fff" stroke="#1b4a9c" stroke-width="1.1"/>
<rect x="1222.0" y="439.0" width="1" height="15.0" fill="#ee4d4d"/>
<rect x="1221.0" y="440.8" width="3" height="13.3" fill="#ee4d4d"/>
<rect x="1228.0" y="448.2" width="1" height="14.7" fill="#1b4a9c"/>
<rect x="1227.5" y="448.6" width="2" height="1.5" rx="1" fill="#fff" stroke="#1b4a9c" stroke-width="1.1"/>
<rect x="1234.0" y="438.1" width="1" height="13.7" fill="#1b4a9c"/>
<rect x="1233.5" y="440.8" width="2" height="9.6" rx="1" fill="#fff" stroke="#1b4a9c" stroke-width="1.1"/>
<rect x="1240.0" y="438.1" width="1" height="15.9" fill="#ee4d4d"/>
<rect x="1239.0" y="438.6" width="3" height="8.8" fill="#ee4d4d"/>
<rect x="1246.0" y="433.1" width="1" height="13.3" fill="#1b4a9c"/>
<rect x="1245.5" y="437.1" width="2" height="9.3" rx="1" fill="#fff" stroke="#1b4a9c" stroke-width="1.1"/>
<rect x="1253.0" y="420.4" width="1" height="15.9" fill="#1b4a9c"/>
<rect x="1252.5" y="420.4" width="2" height="15.9" rx="1" fill="#fff" stroke="#1b4a9c" stroke-width="1.1"/>
<rect x="1259.0" y="414.0" width="1" height="19.8" fill="#ee4d4d"/>
<rect x="1258.0" y="420.1" width="3" height="13.0" fill="#ee4d4d"/>
<rect x="1265.0" y="417.9" width="1" height="13.3" fill="#1b4a9c"/>
<rect x="1264.5" y="417.9" width="2" height="13.3" rx="1" fill="#fff" stroke="#1b4a9c" stroke-width="1.1"/>
<rect x="1271.0" y="417.2" width="1" height="9.6" fill="#ee4d4d"/>
<rect x="1270.0" y="417.9" width="3" height="8.6" fill="#ee4d4d"/>
<rect x="1277.0" y="416.5" width="1" height="6.9" fill="#1b4a9c"/>
<rect x="1276.5" y="420.9" width="2" height="2.2" rx="1" fill="#fff" stroke="#1b4a9c" stroke-width="1.1"/>
<rect x="1283.0" y="402.2" width="1" height="21.2" fill="#1b4a9c"/>
<rect x="1282.5" y="413.5" width="2" height="9.6" rx="1" fill="#fff" stroke="#1b4a9c" stroke-width="1.1"/>
<rect x="1289.0" y="402.2" width="1" height="12.5" fill="#1b4a9c"/>
<rect x="1288.5" y="409.1" width="2" height="4.9" rx="1" fill="#fff" stroke="#1b4a9c" stroke-width="1.1"/>
<rect x="1295.0" y="404.2" width="1" height="8.6" fill="#ee4d4d"/>
<rect x="1294.0" y="406.6" width="3" height="2.9" fill="#ee4d4d"/>
<rect x="1301.0" y="402.2" width="1" height="10.6" fill="#1b4a9c"/>
<rect x="1300.5" y="404.2" width="2" height="4.9" rx="1" fill="#fff" stroke="#1b4a9c" stroke-width="1.1"/>
<rect x="1307.0" y="392.9" width="1" height="17.7" fill="#1b4a9c"/>
<rect x="1306.5" y="395.1" width="2" height="5.9" rx="1" fill="#fff" stroke="#1b4a9c" stroke-width="1.1"/>
<rect x="1313.0" y="385.0" width="1" height="30.7" fill="#ee4d4d"/>
<rect x="1312.0" y="392.9" width="3" height="15.8" fill="#ee4d4d"/>
<rect x="1320.0" y="399.2" width="1" height="16.5" fill="#ee4d4d"/>
<rect x="1319.0" y="407.2" width="3" height="4.4" fill="#ee4d4d"/>
<rect x="1326.0" y="392.1" width="1" height="36.6" fill="#1b4a9c"/>
<rect x="1325.5" y="401.3" width="2" height="21.1" rx="1" fill="#fff" stroke="#1b4a9c" stroke-width="1.1"/>
<rect x="1332.0" y="392.1" width="1" height="13.3" fill="#1b4a9c"/>
<rect x="1331.5" y="392.9" width="2" height="11.8" rx="1" fill="#fff" stroke="#1b4a9c" stroke-width="1.1"/>
<rect x="1338.0" y="382.5" width="1" height="11.8" fill="#1b4a9c"/>
<rect x="1337.5" y="383.3" width="2" height="10.3" rx="1" fill="#fff" stroke="#1b4a9c" stroke-width="1.1"/>
<rect x="1344.0" y="378.1" width="1" height="10.3" fill="#1b4a9c"/>
<rect x="1343.5" y="378.8" width="2" height="1.5" rx="1" fill="#fff" stroke="#1b4a9c" stroke-width="1.1"/>
<rect x="1350.0" y="379.1" width="1" height="14.5" fill="#ee4d4d"/>
<rect x="1349.0" y="380.6" width="3" height="12.2" fill="#ee4d4d"/>
<rect x="1356.0" y="382.5" width="1" height="12.2" fill="#1b4a9c"/>
<rect x="1355.5" y="384.7" width="2" height="8.8" rx="1" fill="#fff" stroke="#1b4a9c" stroke-width="1.1"/>
<rect x="1362.0" y="378.1" width="1" height="11.8" fill="#1b4a9c"/>
<rect x="1361.5" y="382.1" width="2" height="1.5" rx="1" fill="#fff" stroke="#1b4a9c" stroke-width="1.1"/>
<rect x="1368.0" y="372.9" width="1" height="17.0" fill="#ee4d4d"/>
<rect x="1367.0" y="381.5" width="3" height="3.2" fill="#ee4d4d"/>
<rect x="1374.0" y="346.2" width="1" height="41.3" fill="#1b4a9c"/>
<rect x="1373.5" y="346.2" width="2" height="37.7" rx="1" fill="#fff" stroke="#1b4a9c" stroke-width="1.1"/>
<rect x="1380.0" y="339.0" width="1" height="15.7" fill="#1b4a9c"/>
<rect x="1379.5" y="339.8" width="2" height="6.4" rx="1" fill="#fff" stroke="#1b4a9c" stroke-width="1.1"/>
<rect x="1386.0" y="324.1" width="1" height="16.4" fill="#1b4a9c"/>
<rect x="1385.5" y="324.5" width="2" height="16.0" rx="1" fill="#fff" stroke="#1b4a9c" stroke-width="1.1"/>
<rect x="1393.0" y="321.2" width="1" height="8.5" fill="#1b4a9c"/>
<rect x="1392.5" y="323.1" width="2" height="1.7" rx="1" fill="#fff" stroke="#1b4a9c" stroke-width="1.1"/>
<rect x="1399.0" y="321.2" width="1" height="10.4" fill="#ee4d4d"/>
<rect x="1398.0" y="328.4" width="3" height="3.3" fill="#ee4d4d"/>
<rect x="1405.0" y="292.3" width="1" height="38.2" fill="#1b4a9c"/>
<rect x="1404.5" y="295.6" width="2" height="34.9" rx="1" fill="#fff" stroke="#1b4a9c" stroke-width="1.1"/>
<rect x="1411.0" y="288.0" width="1" height="14.7" fill="#1b4a9c"/>
<rect x="1410.0" y="292.3" width="3" height="1.5" fill="#1b4a9c"/>
<rect x="1417.0" y="270.7" width="1" height="20.9" fill="#1b4a9c"/>
<rect x="1416.5" y="272.1" width="2" height="19.5" rx="1" fill="#fff" stroke="#1b4a9c" stroke-width="1.1"/>
<rect x="1423.0" y="268.5" width="1" height="22.1" fill="#ee4d4d"/>
<rect x="1422.0" y="270.0" width="3" height="10.0" fill="#ee4d4d"/>
<rect x="1429.0" y="279.2" width="1" height="21.7" fill="#ee4d4d"/>
<rect x="1428.0" y="279.2" width="3" height="12.5" fill="#ee4d4d"/>
<rect x="1435.0" y="289.9" width="1" height="20.7" fill="#ee4d4d"/>
<rect x="1434.0" y="290.3" width="3" height="19.9" fill="#ee4d4d"/>
<rect x="1441.0" y="309.1" width="1" height="18.5" fill="#ee4d4d"/>
<rect x="1440.0" y="309.1" width="3" height="7.4" fill="#ee4d4d"/>
<rect x="1447.0" y="307.4" width="1" height="14.2" fill="#1b4a9c"/>
<rect x="1446.5" y="312.3" width="2" height="3.3" rx="1" fill="#fff" stroke="#1b4a9c" stroke-width="1.1"/>
<rect x="1453.0" y="291.3" width="1" height="26.4" fill="#1b4a9c"/>
<rect x="1452.5" y="293.2" width="2" height="20.2" rx="1" fill="#fff" stroke="#1b4a9c" stroke-width="1.1"/>
<rect x="1460.0" y="288.2" width="1" height="14.5" fill="#ee4d4d"/>
<rect x="1459.0" y="288.2" width="3" height="13.8" fill="#ee4d4d"/>
<rect x="1466.0" y="272.4" width="1" height="28.2" fill="#1b4a9c"/>
<rect x="1465.5" y="274.9" width="2" height="25.6" rx="1" fill="#fff" stroke="#1b4a9c" stroke-width="1.1"/>
<rect x="1472.0" y="260.0" width="1" height="18.5" fill="#1b4a9c"/>
<rect x="1471.5" y="272.1" width="2" height="3.6" rx="1" fill="#fff" stroke="#1b4a9c" stroke-width="1.1"/>
<rect x="1478.0" y="284.2" width="1" height="34.6" fill="#ee4d4d"/>
<rect x="1477.0" y="285.6" width="3" height="16.1" fill="#ee4d4d"/>
<rect x="1484.0" y="287.1" width="1" height="19.2" fill="#1b4a9c"/>
<rect x="1483.5" y="298.4" width="2" height="7.5" rx="1" fill="#fff" stroke="#1b4a9c" stroke-width="1.1"/>
<rect x="1490.0" y="284.2" width="1" height="33.5" fill="#1b4a9c"/>
<rect x="1489.5" y="290.6" width="2" height="5.7" rx="1" fill="#fff" stroke="#1b4a9c" stroke-width="1.1"/>
<rect x="1496.0" y="275.2" width="1" height="14.4" fill="#1b4a9c"/>
<rect x="1495.5" y="287.1" width="2" height="2.5" rx="1" fill="#fff" stroke="#1b4a9c" stroke-width="1.1"/>
<rect x="1502.0" y="279.1" width="1" height="28.6" fill="#1b4a9c"/>
<rect x="1501.5" y="282.1" width="2" height="3.5" rx="1" fill="#fff" stroke="#1b4a9c" stroke-width="1.1"/>
<rect x="1508.0" y="276.1" width="1" height="44.6" fill="#ee4d4d"/>
<rect x="1507.0" y="280.0" width="3" height="29.9" fill="#ee4d4d"/>
<rect x="1514.0" y="285.3" width="1" height="31.4" fill="#1b4a9c"/>
<rect x="1513.5" y="288.0" width="2" height="25.6" rx="1" fill="#fff" stroke="#1b4a9c" stroke-width="1.1"/>
<rect x="1520.0" y="271.1" width="1" height="18.5" fill="#1b4a9c"/>
<rect x="1519.5" y="272.0" width="2" height="17.6" rx="1" fill="#fff" stroke="#1b4a9c" stroke-width="1.1"/>
<rect x="1526.0" y="258.1" width="1" height="19.4" fill="#ee4d4d"/>
<rect x="1525.0" y="270.1" width="3" height="5.7" fill="#ee4d4d"/>
<rect x="1533.0" y="258.1" width="1" height="56.8" fill="#ee4d4d"/>
<rect x="1532.0" y="277.9" width="3" height="30.7" fill="#ee4d4d"/>
<rect x="1539.0" y="287.1" width="1" height="42.6" fill="#1b4a9c"/>
<rect x="1538.5" y="295.3" width="2" height="29.3" rx="1" fill="#fff" stroke="#1b4a9c" stroke-width="1.1"/>
<rect x="1545.0" y="270.1" width="1" height="21.5" fill="#1b4a9c"/>
<rect x="1544.5" y="279.1" width="2" height="9.3" rx="1" fill="#fff" stroke="#1b4a9c" stroke-width="1.1"/>
<rect x="1551.0" y="270.1" width="1" height="29.8" fill="#1b4a9c"/>
<rect x="1550.5" y="276.1" width="2" height="7.3" rx="1" fill="#fff" stroke="#1b4a9c" stroke-width="1.1"/>
<rect x="1557.0" y="270.1" width="1" height="15.6" fill="#1b4a9c"/>
<rect x="1556.5" y="270.6" width="2" height="7.8" rx="1" fill="#fff" stroke="#1b4a9c" stroke-width="1.1"/>
<rect x="1563.0" y="271.1" width="1" height="19.7" fill="#ee4d4d"/>
<rect x="1562.0" y="272.9" width="3" height="13.7" fill="#ee4d4d"/>
<rect x="1569.0" y="275.2" width="1" height="18.6" fill="#1b4a9c"/>
<rect x="1568.0" y="278.0" width="3" height="1.5" fill="#1b4a9c"/>
<rect x="1575.0" y="275.2" width="1" height="13.5" fill="#1b4a9c"/>
<rect x="1574.5" y="276.1" width="2" height="4.6" rx="1" fill="#fff" stroke="#1b4a9c" stroke-width="1.1"/>
<rect x="1581.0" y="264.2" width="1" height="8.5" fill="#1b4a9c"/>
<rect x="1580.5" y="266.0" width="2" height="3.2" rx="1" fill="#fff" stroke="#1b4a9c" stroke-width="1.1"/>
<line x1="21" y1="265.9" x2="1886" y2="265.9" stroke="#a4a4a4" stroke-width="1.8" stroke-dasharray="4,3"/>
<rect x="1399.5" y="267.1" width="486.5" height="3.8" fill="#000"/>
<rect x="614" y="454.2" width="1306" height="3.8" fill="#000"/>
<text x="1849" y="283.8" class="lb" textLength="31.2" lengthAdjust="spacingAndGlyphs">60.06</text>
<text x="1849" y="470.8" class="lb" textLength="31.2" lengthAdjust="spacingAndGlyphs">37.78</text>
<rect x="1886.2" y="256" width="42.5" height="18.7" rx="2.5" fill="#6f6f6f"/>
<text x="1893.1" y="269.2" class="tag" stroke="#fff" stroke-width="0.3" textLength="29.7" lengthAdjust="spacingAndGlyphs">60.51</text>
<rect x="1423.0" y="222" width="1.2" height="23" fill="#1a1a1a"/>
<path d="M1418.6,243 L1428.6,243 L1423.6,253 Z" fill="#1a1a1a"/>
<rect x="1519.8000000000002" y="220.5" width="1.2" height="23.0" fill="#1a1a1a"/>
<path d="M1515.4,241.5 L1525.4,241.5 L1520.4,251.5 Z" fill="#1a1a1a"/>
<rect x="1562.9" y="223.5" width="1.2" height="23.5" fill="#1a1a1a"/>
<path d="M1558.5,245 L1568.5,245 L1563.5,255 Z" fill="#1a1a1a"/>
<path d="M608.5,540.8 C808.3,650.2 992.9,649.2 1186.2,536.9" fill="none" stroke="#4a7aa8" stroke-width="2"/>
<path d="M1411.8,319.7 C1469.8,345.8 1526.8,360.3 1593.8,319" fill="none" stroke="#4a7aa8" stroke-width="2"/>
<text x="1924" y="91.2" text-anchor="end" class="ax">92.81</text>
<text x="1924" y="144.2" text-anchor="end" class="ax">81.51</text>
<text x="1924" y="196.2" text-anchor="end" class="ax">71.59</text>
<text x="1924" y="249.2" text-anchor="end" class="ax">62.87</text>
<text x="1924" y="301.2" text-anchor="end" class="ax">55.22</text>
<text x="1924" y="353.2" text-anchor="end" class="ax">48.49</text>
<text x="1924" y="406.2" text-anchor="end" class="ax">42.59</text>
<text x="1924" y="458.2" text-anchor="end" class="ax">37.41</text>
<text x="1924" y="511.2" text-anchor="end" class="ax">32.85</text>
<text x="1924" y="563.2" text-anchor="end" class="ax">28.85</text>
<text x="1924" y="615.2" text-anchor="end" class="ax">25.34</text>
<text x="1924" y="668.2" text-anchor="end" class="ax">22.26</text>
<text x="1924" y="720.2" text-anchor="end" class="ax">19.55</text>
<text x="1924" y="773.2" text-anchor="end" class="ax">17.17</text>
<path d="M26.9,29.5 L29.8,36.9 L26.9,44.6" fill="none" stroke="#4a4f55" stroke-width="0.9"/>
<circle cx="26.9" cy="29.5" r="2.1" fill="#fff" stroke="#3d4650" stroke-width="1"/>
<circle cx="38.2" cy="27.2" r="2.1" fill="#fff" stroke="#3d4650" stroke-width="1"/>
<circle cx="33.8" cy="31.8" r="2.1" fill="#fff" stroke="#3d4650" stroke-width="1"/>
<circle cx="22.4" cy="36.4" r="2.1" fill="#fff" stroke="#3d4650" stroke-width="1"/>
<circle cx="30" cy="36.9" r="1.6" fill="#fff" stroke="#3d4650" stroke-width="1"/>
<circle cx="35.4" cy="39" r="2.1" fill="#fff" stroke="#3d4650" stroke-width="1"/>
<circle cx="42" cy="41.8" r="2.1" fill="#fff" stroke="#3d4650" stroke-width="1"/>
<circle cx="26.9" cy="44.6" r="2.1" fill="#fff" stroke="#3d4650" stroke-width="1"/>
</svg>
</body></html>
